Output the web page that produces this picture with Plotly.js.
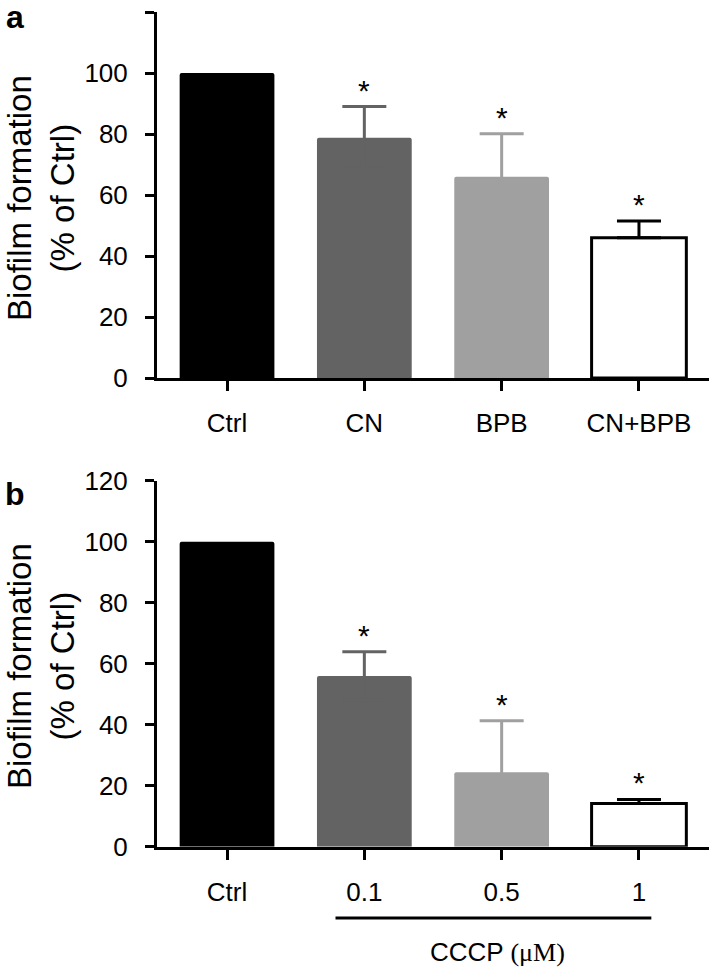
<!DOCTYPE html>
<html>
<head>
<meta charset="utf-8">
<script src="https://cdn.plot.ly/plotly-3.0.1.min.js"></script>
<style>html,body{margin:0;padding:0;background:#fff}#chart{width:709px;height:968px}</style>
</head>
<body>
<div id="chart"></div>
<script>
// ---- data ----
const catsA = ['Ctrl', 'CN', 'BPB', 'CN+BPB'];
const meanA = [100, 78.8, 66.0, 46.0];
const errA  = [0, 10.2, 14.1, 5.5];
const sigA  = [false, true, true, true];

const catsB = ['Ctrl', '0.1', '0.5', '1'];
const meanB = [100, 56.0, 24.4, 14.2];
const errB  = [0, 7.9, 16.9, 1.3];
const sigB  = [false, true, true, true];

const yTickVals = [0, 20, 40, 60, 80, 100, 120];
const yTitle = 'Biofilm formation<br>(% of Ctrl)';
const bracketLabel = 'CCCP <span style="font-family:\'Liberation Serif\',\'Times New Roman\',serif">(μM)</span>';

const fillColors = ['#000000', '#636363', '#a0a0a0', '#ffffff'];
const errColors  = ['#000000', '#636363', '#a0a0a0', '#000000'];

const FONT = 'Liberation Sans, Arial, Helvetica, sans-serif';
const W = 709, H = 968;

function barTraces(cats, means, errs, xa, ya) {
  return cats.map((c, i) => {
    const hollow = fillColors[i] === '#ffffff';
    return {
      type: 'bar',
      x: [c],
      y: [means[i]],
      xaxis: xa, yaxis: ya,
      width: 0.69,
      marker: {
        color: fillColors[i],
        cornerradius: hollow ? 0 : 2,
        line: { color: '#000000', width: hollow ? 3 : 0 }
      },
      // mean ± SD; the lower half is hidden inside filled bars, omitted for hollow bars
      error_y: {
        type: 'data', symmetric: !hollow,
        array: [errs[i]], arrayminus: [0],
        visible: errs[i] > 0,
        color: errColors[i], thickness: 3, width: 22
      },
      showlegend: false,
      hoverinfo: 'skip'
    };
  });
}

const data = [
  ...barTraces(catsA, meanA, errA, 'x', 'y'),
  ...barTraces(catsB, meanB, errB, 'x2', 'y2')
];

// stars placed by category index (avoids numeric-looking category names)
function starAnnots(cats, means, errs, sig, xr, yr) {
  const out = [];
  cats.forEach((c, i) => {
    if (!sig[i]) return;
    out.push({
      x: i, y: means[i] + errs[i], xref: xr, yref: yr,
      text: '*', showarrow: false, yanchor: 'bottom', yshift: -2,
      font: { family: FONT, size: 30, color: '#000' }
    });
  });
  return out;
}

const axisX = {
  type: 'category',
  range: [-0.51, 3.51],
  showline: true, linewidth: 3, linecolor: '#000',
  ticks: 'outside', ticklen: 10, tickwidth: 3, tickcolor: '#000',
  tickfont: { family: FONT, size: 26, color: '#000' },
  ticklabelstandoff: 10,
  showgrid: false, zeroline: false, fixedrange: true
};
const axisY = {
  range: [0, 120],
  tickvals: yTickVals,
  showline: true, linewidth: 3, linecolor: '#000',
  ticks: 'outside', ticklen: 9, tickwidth: 3, tickcolor: '#000',
  tickfont: { family: FONT, size: 26, color: '#000' },
  ticklabelstandoff: 12,
  showgrid: false, zeroline: false, fixedrange: true
};

const xDom = [157 / W, 1];
const yDomA = [(H - 378) / H, (H - 12) / H];
const yDomB = [(H - 846.7) / H, (H - 480.7) / H];

const layout = {
  width: W, height: H,
  margin: { l: 0, r: 0, t: 0, b: 0 },
  paper_bgcolor: '#fff', plot_bgcolor: '#fff',
  barmode: 'overlay',
  font: { family: FONT, color: '#000' },
  xaxis:  Object.assign({}, axisX, { domain: xDom, anchor: 'y' }),
  yaxis:  Object.assign({}, axisY, { domain: yDomA, anchor: 'x' }),
  xaxis2: Object.assign({}, axisX, { domain: xDom, anchor: 'y2' }),
  yaxis2: Object.assign({}, axisY, { domain: yDomB, anchor: 'x2' }),
  shapes: [
    { type: 'line', xref: 'x2', yref: 'paper', x0: 0.79, x1: 3.09,
      y0: (H - 918) / H, y1: (H - 918) / H, line: { color: '#000', width: 3 } }
  ],
  annotations: [
    ...starAnnots(catsA, meanA, errA, sigA, 'x', 'y'),
    ...starAnnots(catsB, meanB, errB, sigB, 'x2', 'y2'),
    { text: yTitle, xref: 'paper', yref: 'paper', x: 41 / W, y: (H - 198) / H,
      textangle: -90, showarrow: false, xanchor: 'center', yanchor: 'middle',
      borderpad: 0,
      font: { family: FONT, size: 33, color: '#000' } },
    { text: yTitle, xref: 'paper', yref: 'paper', x: 41 / W, y: (H - 666) / H,
      textangle: -90, showarrow: false, xanchor: 'center', yanchor: 'middle',
      borderpad: 0,
      font: { family: FONT, size: 33, color: '#000' } },
    { text: '<b>a</b>', xref: 'paper', yref: 'paper', x: 15 / W, y: (H - 17) / H,
      showarrow: false, xanchor: 'center', yanchor: 'middle', borderpad: 0,
      font: { family: FONT, size: 32, color: '#000' } },
    { text: '<b>b</b>', xref: 'paper', yref: 'paper', x: 15 / W, y: (H - 494) / H,
      showarrow: false, xanchor: 'center', yanchor: 'middle', borderpad: 0,
      font: { family: FONT, size: 32, color: '#000' } },
    { text: bracketLabel, xref: 'x2', yref: 'paper', x: 1.97, y: (H - 952) / H,
      showarrow: false, xanchor: 'center', yanchor: 'middle',
      font: { family: FONT, size: 26, color: '#000' } }
  ]
};

Plotly.newPlot('chart', data, layout, { staticPlot: true, displayModeBar: false });
</script>
</body>
</html>
